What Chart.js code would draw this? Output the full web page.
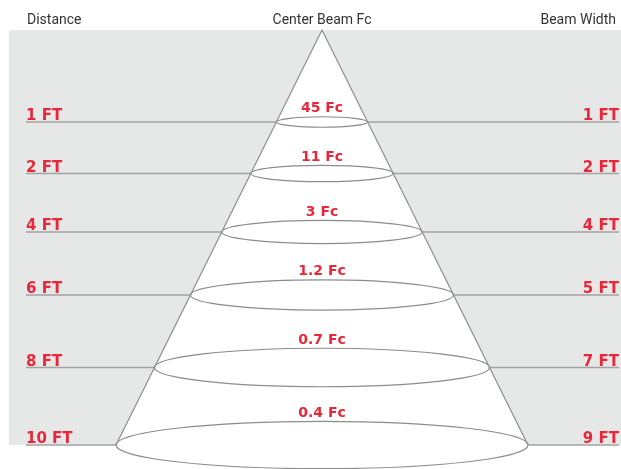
<!DOCTYPE html>
<html>
<head>
<meta charset="utf-8">
<script src="https://cdn.jsdelivr.net/npm/chart.js@4"></script>
<style>
  html, body { margin: 0; padding: 0; background: #fff; }
  canvas { display: block; }
</style>
</head>
<body>
<canvas id="beamChart" width="621" height="469"></canvas>
<script>
// values
const distanceFt = [1, 2, 4, 6, 8, 10];
const centerBeamFc = [45, 11, 3, 1.2, 0.7, 0.4];
const beamWidthFt = [1, 2, 4, 5, 7, 9];
// vertical level of each row on the diagram axis (0 = top of canvas)
const rowLevels = [122, 173.5, 232, 295, 367.5, 445];
const headers = ['Distance', 'Center Beam Fc', 'Beam Width'];

const RED = '#e8283a';
const LINE = '#a2a2a2';
const CONE = '#8c8c8c';

// cone drawing geometry
const cone = { x: 322, top: 30, bottom: 445, halfBase: 206 };
const margin = { left: 26, right: 619, bgLeft: 9 };

function halfWidth(level) {
    return (level - cone.top) / (cone.bottom - cone.top) * cone.halfBase;
}

const leftLines = [];
const rightLines = [];
rowLevels.forEach(level => {
    const hw = halfWidth(level);
    leftLines.push({x: margin.left, y: level}, {x: cone.x - hw, y: level}, {x: 0, y: null});
    rightLines.push({x: cone.x + hw, y: level}, {x: margin.right, y: level}, {x: 0, y: null});
});

const conePoints = [
    {x: cone.x - cone.halfBase, y: cone.bottom},
    {x: cone.x, y: cone.top},
    {x: cone.x + cone.halfBase, y: cone.bottom},
];

const diagramPlugin = {
    id: 'diagram',
    beforeDatasetsDraw(chart) {
        const {ctx, scales: {x, y}} = chart;
        ctx.save();
        ctx.fillStyle = '#e6e7e7';
        const x0 = x.getPixelForValue(margin.bgLeft);
        const y0 = y.getPixelForValue(cone.top);
        ctx.fillRect(x0, y0, x.getPixelForValue(621) - x0, y.getPixelForValue(cone.bottom) - y0);
        ctx.restore();
    },
    afterDatasetsDraw(chart) {
        const {ctx, scales: {x, y}} = chart;
        ctx.save();

        // beam ellipses
        ctx.strokeStyle = CONE;
        ctx.lineWidth = 1.2;
        rowLevels.forEach(level => {
            const hw = halfWidth(level);
            const cx = x.getPixelForValue(cone.x);
            const cy = y.getPixelForValue(level);
            const rx = x.getPixelForValue(cone.x + hw) - cx;
            const ry = rx * 0.115;
            ctx.beginPath();
            ctx.ellipse(cx, cy, rx, ry, 0, 0, Math.PI * 2);
            ctx.stroke();
        });

        // headers
        ctx.fillStyle = '#333';
        ctx.font = '14px Roboto';
        ctx.textBaseline = 'alphabetic';
        ctx.textAlign = 'left';
        ctx.fillText(headers[0], x.getPixelForValue(27), 23.5);
        ctx.textAlign = 'center';
        ctx.fillText(headers[1], x.getPixelForValue(cone.x), 23.5);
        ctx.textAlign = 'right';
        ctx.fillText(headers[2], x.getPixelForValue(616), 23.5);

        // row labels
        ctx.fillStyle = RED;
        ctx.font = 'bold 15px "DejaVu Sans"';
        rowLevels.forEach((level, i) => {
            const py = y.getPixelForValue(level) - 2;
            ctx.textAlign = 'left';
            ctx.fillText(distanceFt[i] + ' FT', x.getPixelForValue(margin.left), py);
            ctx.textAlign = 'right';
            ctx.fillText(beamWidthFt[i] + ' FT', x.getPixelForValue(margin.right), py);
        });

        // center beam values
        ctx.font = 'bold 14px "DejaVu Sans"';
        ctx.textAlign = 'center';
        rowLevels.forEach((level, i) => {
            const ry = halfWidth(level) * 0.115;
            ctx.fillText(centerBeamFc[i] + ' Fc', x.getPixelForValue(cone.x), y.getPixelForValue(level) - ry - 4.5);
        });
        ctx.restore();
    }
};

new Chart(document.getElementById('beamChart'), {
    type: 'line',
    data: {
        datasets: [
            {
                label: 'cone',
                data: conePoints,
                borderColor: CONE,
                borderWidth: 1.2,
                backgroundColor: '#ffffff',
                fill: {value: cone.bottom},
                pointRadius: 0,
                tension: 0,
                order: 1,
            },
            {
                label: 'left',
                data: leftLines,
                borderColor: LINE,
                borderWidth: 1.5,
                pointRadius: 0,
                spanGaps: false,
                fill: false,
                order: 2,
            },
            {
                label: 'right',
                data: rightLines,
                borderColor: LINE,
                borderWidth: 1.5,
                pointRadius: 0,
                spanGaps: false,
                fill: false,
                order: 2,
            },
        ],
    },
    options: {
        responsive: false,
        animation: false,
        layout: {padding: 0},
        parsing: false,
        scales: {
            x: {type: 'linear', min: 0, max: 621, display: false},
            y: {type: 'linear', min: 0, max: 469, reverse: true, display: false},
        },
        plugins: {
            legend: {display: false},
            tooltip: {enabled: false},
        },
    },
    plugins: [diagramPlugin],
});
</script>
</body>
</html>
